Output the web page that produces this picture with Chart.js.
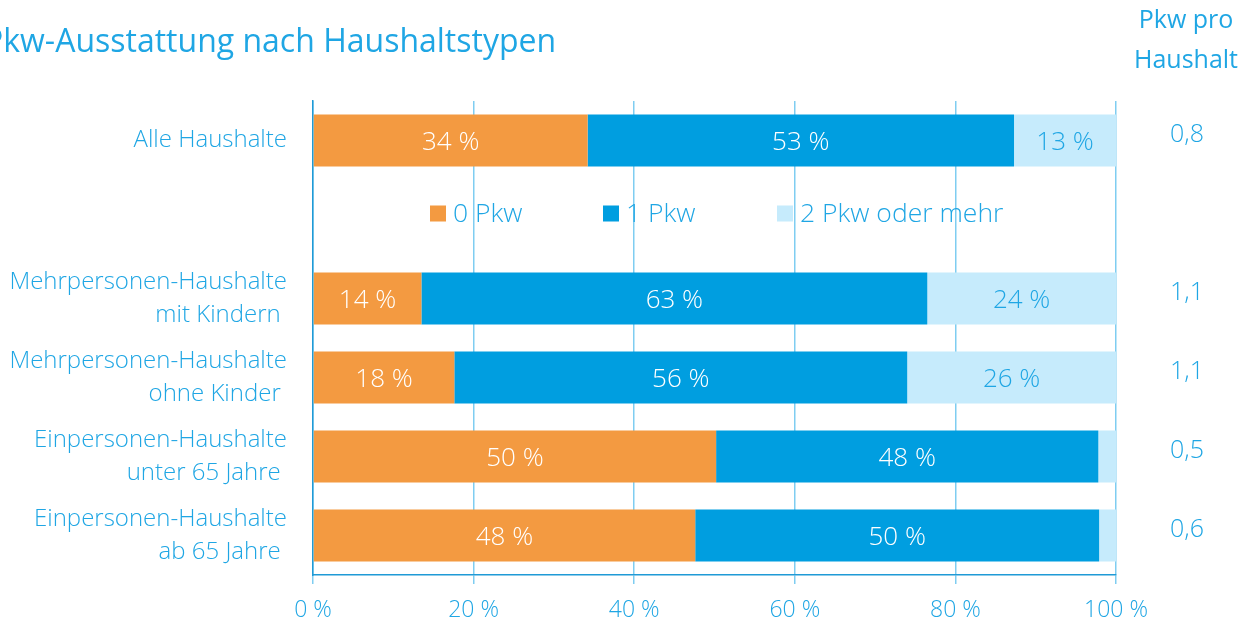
<!DOCTYPE html>
<html lang="de">
  <head>
    <meta charset="UTF-8" />
    <title>Pkw-Ausstattung nach Haushaltstypen</title>
    <script src="https://cdn.jsdelivr.net/npm/chart.js@4.4.1/dist/chart.umd.min.js"></script>
    <style>
      body { margin: 0; background: #fff; }
      #box { width: 1253px; height: 623px; }
    </style>
  </head>
  <body>
    <div id="box"><canvas id="grafik" width="1253" height="623"></canvas></div>
  </body>
</html>

<script>
  // Kategorien (leere Zeile = Platz fuer die Legende)
  const kategorien = [
    ["Alle Haushalte"],
    [""],
    ["Mehrpersonen-Haushalte", "mit Kindern "],
    ["Mehrpersonen-Haushalte", "ohne Kinder "],
    ["Einpersonen-Haushalte", "unter 65 Jahre "],
    ["Einpersonen-Haushalte", "ab 65 Jahre "],
  ];
  const pkw0 = [34.2, null, 13.5, 17.6, 50.2, 47.6];
  const pkw1 = [53.1, null, 63.0, 56.4, 47.6, 50.3];
  const pkw2 = [12.7, null, 23.5, 26.0, 2.2, 2.1];
  const pkwProHaushalt = ["0,8", "", "1,1", "1,1", "0,5", "0,6"];
  const serienNamen = ["0 Pkw", "1 Pkw", "2 Pkw oder mehr"];
  const xTicks = [0, 20, 40, 60, 80, 100];

  const ORANGE = "#f39a41";
  const BLAU = "#009ee0";
  const HELL = "#c6ebfc";
  const TEXT = "#1fa6e4";
  const SCHRIFT = "'Open Sans', sans-serif";

  // Beschriftungen, Titel, Legende und rechte Spalte
  const extras = {
    id: "extras",
    afterDatasetsDraw(chart) {
      const ctx = chart.ctx;
      const yScale = chart.scales.y;
      ctx.save();
      ctx.textBaseline = "middle";
      ctx.textAlign = "center";
      ctx.font = "300 26px " + SCHRIFT;
      chart.data.datasets.forEach((ds, i) => {
        const meta = chart.getDatasetMeta(i);
        meta.data.forEach((bar, j) => {
          const v = ds.data[j];
          if (v == null || v < 5) return;
          const mitte = (bar.x + bar.base) / 2;
          ctx.fillStyle = i === 2 ? TEXT : "#ffffff";
          ctx.fillText(Math.round(v) + " %", mitte, bar.y + 2);
        });
      });

      // Titel
      ctx.fillStyle = TEXT;
      ctx.textAlign = "left";
      ctx.font = "400 32px " + SCHRIFT;
      ctx.fillText("Pkw-Ausstattung nach Haushaltstypen", -16, 43);

      // rechte Spalte
      ctx.textAlign = "center";
      ctx.font = "400 25px " + SCHRIFT;
      ctx.fillText("Pkw pro", 1186, 21);
      ctx.fillText("Haushalt", 1186, 61);
      ctx.font = "300 25px " + SCHRIFT;
      pkwProHaushalt.forEach((t, j) => {
        if (!t) return;
        ctx.fillText(t, 1187, yScale.getPixelForValue(j) - 6);
      });

      // Legende in der leeren Zeile
      const farben = [ORANGE, BLAU, HELL];
      const startX = [430, 603, 777];
      const ly = yScale.getPixelForValue(1) - 6;
      ctx.font = "300 26.5px " + SCHRIFT;
      serienNamen.forEach((n, i) => {
        ctx.fillStyle = farben[i];
        ctx.fillRect(startX[i], ly - 8, 16, 16);
        ctx.fillStyle = TEXT;
        ctx.textAlign = "left";
        ctx.fillText(n, startX[i] + 23, ly + 1);
      });
      ctx.restore();
    },
  };

  new Chart("grafik", {
    type: "bar",
    data: {
      labels: kategorien,
      datasets: [
        { label: serienNamen[0], data: pkw0, backgroundColor: ORANGE },
        { label: serienNamen[1], data: pkw1, backgroundColor: BLAU },
        { label: serienNamen[2], data: pkw2, backgroundColor: HELL },
      ],
    },
    options: {
      indexAxis: "y",
      responsive: false,
      animation: false,
      layout: { padding: { top: 101, right: 137, left: 0, bottom: 0 } },
      datasets: {
        bar: { barPercentage: 0.66, categoryPercentage: 1 },
      },
      plugins: {
        legend: { display: false },
        tooltip: { enabled: false },
      },
      scales: {
        x: {
          stacked: true,
          min: 0,
          max: 100,
          afterBuildTicks: (s) => { s.ticks = xTicks.map((v) => ({ value: v })); },
          afterFit: (s) => { s.height = 48; },
          grid: {
            color: "#7fcdf1",
            lineWidth: 1.5,
            tickColor: "#7fcdf1",
            tickLength: 9,
          },
          border: { color: "#1f9ad6", width: 1.5 },
          ticks: {
            color: TEXT,
            padding: 13,
            font: { family: SCHRIFT, size: 23, weight: "300" },
            callback: (v) => v + " %",
          },
        },
        y: {
          stacked: true,
          afterFit: (s) => { s.width = 313; },
          grid: { display: false, drawTicks: false },
          border: { color: "#1f9ad6", width: 1.5 },
          ticks: {
            color: TEXT,
            padding: 26,
            font: { family: SCHRIFT, size: 24, weight: "300", lineHeight: 1.35 },
          },
        },
      },
    },
    plugins: [extras],
  });
</script>
